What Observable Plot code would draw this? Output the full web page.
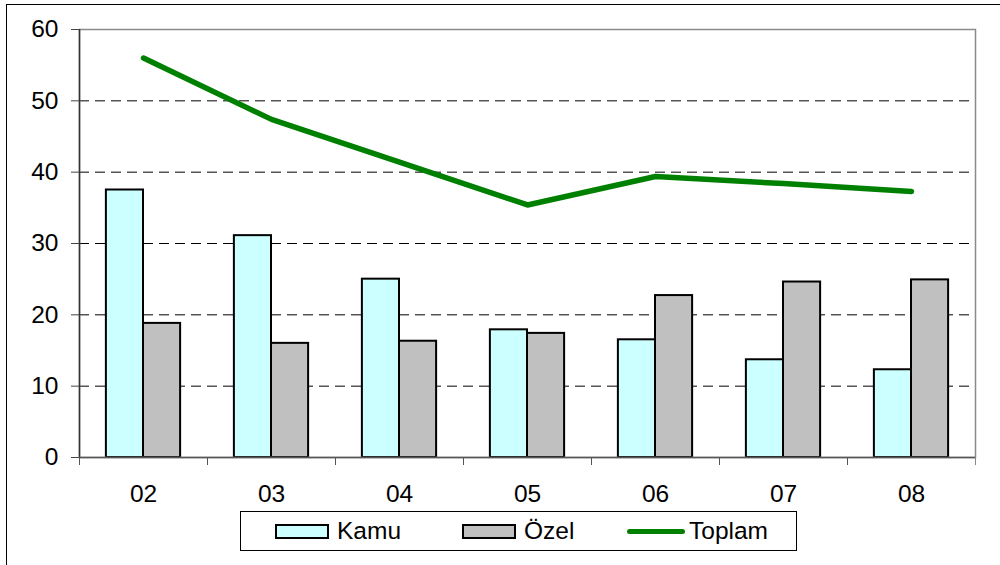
<!DOCTYPE html>
<html>
<head>
<meta charset="utf-8">
<script src="https://cdn.jsdelivr.net/npm/d3@7"></script>
<script src="https://cdn.jsdelivr.net/npm/@observablehq/plot@0.6"></script>
<style>
  html, body { margin: 0; padding: 0; background: #fff; }
  #wrap { position: relative; width: 1000px; height: 565px; overflow: hidden; font-family: "Liberation Sans", Arial, sans-serif; }
  #frame { position: absolute; left: 6px; top: 4px; width: 1200px; height: 800px; border: 1.5px solid #000; box-sizing: border-box; }
  #chart { position: absolute; left: 0; top: 0; }
  #chart svg text { font-size: 24.5px !important; font-family: "Liberation Sans", Arial, sans-serif; fill: #000; }
  #legend { position: absolute; left: 240px; top: 511px; width: 557px; height: 40px; border: 1px solid #000; box-sizing: border-box; background: #fff; }
  .item { position: absolute; top: 0; height: 38px; display: flex; align-items: center; font-size: 24.5px; color: #000; }
  .sw { display: inline-block; width: 54px; height: 15px; border: 2px solid #000; box-sizing: border-box; margin-right: 8px; }
  .ln { display: inline-block; width: 58px; height: 5px; border-radius: 3px; background: #008000; margin-right: 4px; }
</style>
</head>
<body>
<div id="wrap">
  <div id="frame"></div>
  <div id="chart"></div>
  <div id="legend"></div>
</div>
<script>
const years = ["02", "03", "04", "05", "06", "07", "08"];
const kamu = [37.5, 31.1, 25.0, 17.9, 16.5, 13.7, 12.3];
const ozel = [18.8, 16.0, 16.3, 17.4, 22.7, 24.6, 24.9];
const toplam = [56.0, 47.4, 41.4, 35.4, 39.4, 38.4, 37.3];
const yTicks = [0, 10, 20, 30, 40, 50, 60];
const gridTicks = [10, 20, 30, 40, 50];
const seriesNames = ["Kamu", "Özel", "Toplam"];
const colors = {Kamu: "#CCFFFF", "Özel": "#C0C0C0", Toplam: "#008000"};

const kamuRows = years.map((y, i) => ({year: y, value: kamu[i]}));
const ozelRows = years.map((y, i) => ({year: y, value: ozel[i]}));
const totRows = years.map((y, i) => ({year: y, value: toplam[i]}));

const W = 1000, H = 510, mL = 79, mR = 25, mT = 29, mB = 53;
const bw = (W - mL - mR) / years.length;
const barW = bw * 0.29;
const half = bw / 2;

const plot = Plot.plot({
  width: W, height: H,
  marginLeft: mL, marginRight: mR, marginTop: mT, marginBottom: mB,
  style: {fontFamily: '"Liberation Sans", Arial, sans-serif', fontSize: "24.5px", color: "#000", background: "transparent", overflow: "visible"},
  x: {type: "band", domain: years, padding: 0, label: null},
  y: {domain: [0, 60], label: null},
  marks: [
    Plot.ruleY(gridTicks, {stroke: "#000", strokeWidth: 1, strokeDasharray: "10,6"}),
    Plot.barY(kamuRows, {x: "year", y: "value", fill: colors.Kamu, stroke: "#000", strokeWidth: 2, insetLeft: half - barW, insetRight: half}),
    Plot.barY(ozelRows, {x: "year", y: "value", fill: colors["Özel"], stroke: "#000", strokeWidth: 2, insetLeft: half, insetRight: half - barW}),
    Plot.frame({stroke: "#8a8a8a", strokeWidth: 1.5}),
    Plot.ruleX([years[0]], {dx: -half, stroke: "#333", strokeWidth: 1.5}),
    Plot.ruleY([0], {stroke: "#555", strokeWidth: 1.5}),
    Plot.axisY({ticks: yTicks, tickSize: 8, tickPadding: 13, stroke: "#444", fontSize: 24.5, tickFormat: d => String(d)}),
    Plot.axisX({ticks: years, tickSize: 8, text: null, stroke: "#555", dx: -half}),
    Plot.axisX({ticks: ["08"], tickSize: 8, text: null, stroke: "#888", dx: half}),
    Plot.axisX({ticks: years, tickSize: 0, tickPadding: 27, fontSize: 24.5}),
    Plot.line(totRows, {x: "year", y: "value", stroke: colors.Toplam, strokeWidth: 5.5, strokeLinecap: "round", strokeLinejoin: "round"})
  ]
});
document.getElementById("chart").appendChild(plot);

const leg = document.getElementById("legend");
const itemLefts = [34, 221, 386];
seriesNames.forEach((name, i) => {
  const d = document.createElement("div");
  d.className = "item";
  d.style.left = itemLefts[i] + "px";
  const s = document.createElement("span");
  if (name === "Toplam") { s.className = "ln"; }
  else { s.className = "sw"; s.style.background = colors[name]; }
  d.appendChild(s);
  d.appendChild(document.createTextNode(name));
  leg.appendChild(d);
});
</script>
</body>
</html>
